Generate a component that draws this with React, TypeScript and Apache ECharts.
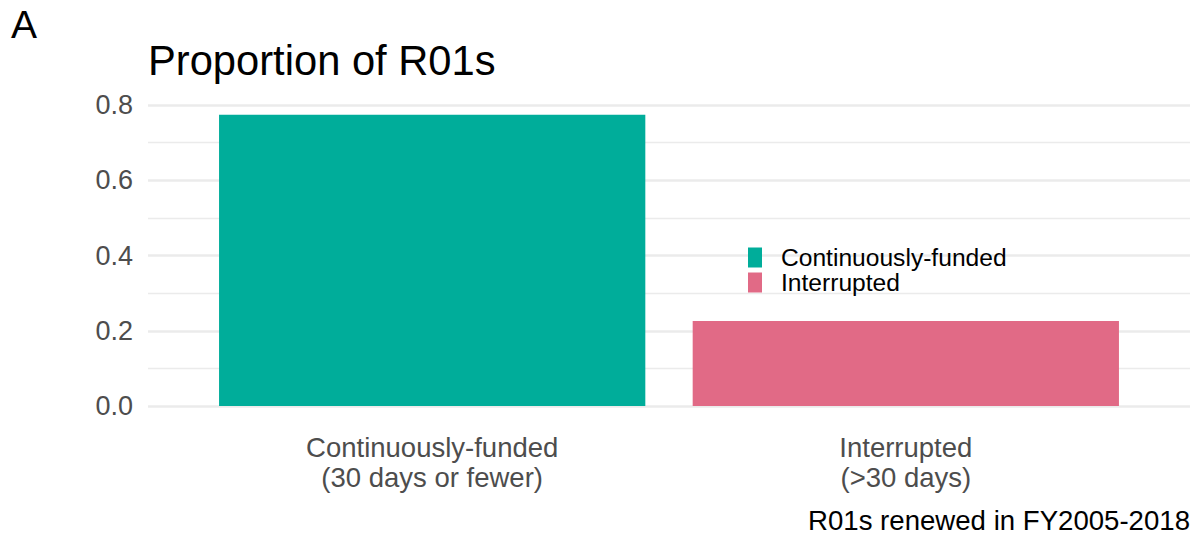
import React, { useEffect, useRef } from 'react';
import * as echarts from 'echarts';

const categories = ['Continuously-funded\n(30 days or fewer)', 'Interrupted\n(>30 days)'];
const seriesNames = ['Continuously-funded', 'Interrupted'];
const proportions = [0.774, 0.226];
const colors = ['#00AD9A', '#E16A86'];
const yMin = 0;
const yMax = 0.8;
const yInterval = 0.2;
const titleText = 'Proportion of R01s';
const panelTag = 'A';
const captionText = 'R01s renewed in FY2005-2018';

const FONT = '"Liberation Sans", Arial, Helvetica, sans-serif';

export default function App() {
  const ref = useRef<HTMLDivElement>(null);
  useEffect(() => {
    if (!ref.current) return;
    const chart = echarts.init(ref.current, undefined, { renderer: 'svg' });
    const W = 1199;
    const panelLeft = 148;
    const panelRight = 1190;
    const panelTop = 105;
    const panelBottom = 406;
    const unit = (panelRight - panelLeft) / 2.2;
    const barGridLeft = panelLeft + 0.6 * unit - unit / 2;
    const barGridRight = W - (barGridLeft + 2 * unit);

    const series = seriesNames.map((name, i) => ({
      name,
      type: 'bar',
      xAxisIndex: 1,
      yAxisIndex: 1,
      stack: 'total',
      barWidth: '90%',
      itemStyle: { color: colors[i] },
      data: categories.map((_, j) => (j === i ? proportions[i] : '-')),
    }));

    chart.setOption({
      animation: false,
      textStyle: { fontFamily: FONT },
      title: [
        {
          text: panelTag,
          left: 11,
          top: 5,
          padding: 0,
          textStyle: { fontSize: 39, fontWeight: 'normal', color: '#000', fontFamily: FONT },
        },
        {
          text: titleText,
          left: panelLeft,
          top: 39,
          padding: 0,
          textStyle: { fontSize: 41.7, fontWeight: 'normal', color: '#000', fontFamily: FONT },
        },
        {
          text: captionText,
          right: W - panelRight,
          top: 506,
          padding: 0,
          textStyle: { fontSize: 27.6, fontWeight: 'normal', color: '#000', fontFamily: FONT },
        },
      ],
      legend: {
        orient: 'vertical',
        left: 748,
        top: 245,
        padding: 0,
        itemWidth: 14,
        itemHeight: 20,
        itemGap: 0,
        icon: 'rect',
        data: seriesNames,
        textStyle: {
          fontSize: 24.6,
          lineHeight: 20,
          color: '#000',
          fontFamily: FONT,
          padding: [0, 0, 0, 14],
        },
      },
      grid: [
        {
          left: panelLeft,
          right: W - panelRight,
          top: panelTop,
          bottom: 536 - panelBottom,
          containLabel: false,
        },
        {
          left: barGridLeft,
          right: barGridRight,
          top: panelTop,
          bottom: 536 - panelBottom,
          containLabel: false,
        },
      ],
      xAxis: [
        {
          type: 'value',
          gridIndex: 0,
          show: false,
          min: 0,
          max: 1,
        },
        {
          type: 'category',
          gridIndex: 1,
          data: categories,
          axisLine: { show: false },
          axisTick: { show: false },
          splitLine: { show: false },
          axisLabel: {
            margin: 26,
            fontSize: 27.5,
            lineHeight: 30,
            color: '#4d4d4d',
            fontFamily: FONT,
            interval: 0,
          },
        },
      ],
      yAxis: [
        {
          type: 'value',
          gridIndex: 0,
          min: yMin,
          max: yMax,
          interval: yInterval,
          axisLine: { show: false },
          axisTick: { show: false },
          axisLabel: {
            margin: 15,
            fontSize: 27,
            color: '#4d4d4d',
            fontFamily: FONT,
            formatter: (v: number) => v.toFixed(1),
          },
          splitLine: { show: true, lineStyle: { color: '#ebebeb', width: 2.6 } },
          minorTick: { show: false, splitNumber: 2 },
          minorSplitLine: { show: true, lineStyle: { color: '#ebebeb', width: 1.4 } },
        },
        {
          type: 'value',
          gridIndex: 1,
          min: yMin,
          max: yMax,
          interval: yInterval,
          show: false,
          splitLine: { show: false },
        },
      ],
      series,
    });
    return () => chart.dispose();
  }, []);
  return (
    <div
      ref={ref}
      style={{ position: 'fixed', left: 0, top: 0, width: 1199, height: 536, background: '#fff' }}
    />
  );
}
